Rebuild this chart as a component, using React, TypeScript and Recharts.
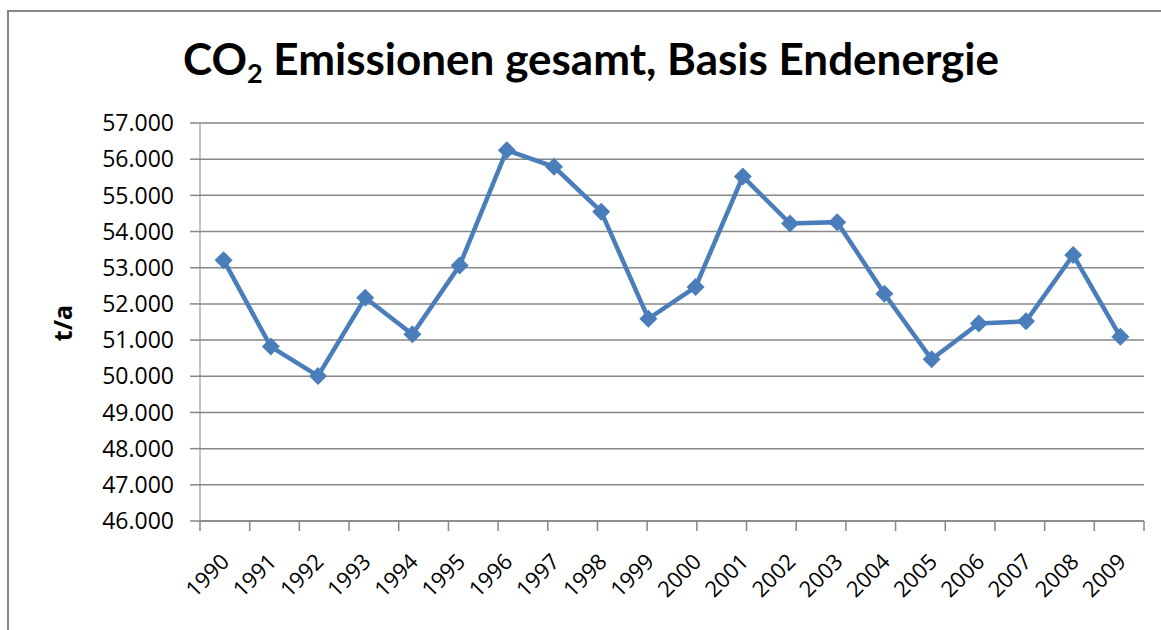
import { LineChart, Line, XAxis, YAxis, CartesianGrid } from "recharts";

const YEARS = [
  "1990", "1991", "1992", "1993", "1994", "1995", "1996", "1997", "1998", "1999",
  "2000", "2001", "2002", "2003", "2004", "2005", "2006", "2007", "2008", "2009",
];

// t/a
const EMISSIONS = [
  53210, 50820, 50010, 52170, 51160, 53060, 56250, 55790, 54550, 51590,
  52470, 55520, 54220, 54260, 52280, 50470, 51460, 51520, 53350, 51090,
];

const Y_TICKS = [
  46000, 47000, 48000, 49000, 50000, 51000, 52000, 53000, 54000, 55000, 56000, 57000,
];

// tick marks sit between the years
const BOUNDARY_TICKS = [0, 1, 2, 3, 4, 5, 6, 7, 8, 9, 10, 11, 12, 13, 14, 15, 16, 17, 18, 19, 20];

const data = YEARS.map((year, i) => ({ year, value: EMISSIONS[i] }));

const FONT = "'Open Sans', 'DejaVu Sans', sans-serif";
const GRID = "#878787";
const BLUE = "#4a7ebb";

const fmt = (v: number) => String(v).replace(/\B(?=(\d{3})+(?!\d))/g, ".");

const Diamond = ({ cx, cy }: { cx?: number; cy?: number }) => {
  if (cx == null || cy == null) return null;
  const r = 9;
  return (
    <polygon
      points={`${cx},${cy - r} ${cx + r},${cy} ${cx},${cy + r} ${cx - r},${cy}`}
      fill={BLUE}
    />
  );
};

const YearTick = ({ x, y, payload }: { x?: number; y?: number; payload?: { value: string } }) => {
  const px = (x ?? 0) + 7;
  const py = (y ?? 0) + 41;
  return (
    <text
      x={px}
      y={py}
      textAnchor="end"
      transform={`rotate(-45 ${px} ${py})`}
      fill="#000"
      fontSize={22}
      fontFamily={FONT}
    >
      {payload?.value}
    </text>
  );
};

export default function App() {
  return (
    <div
      style={{
        position: "absolute", left: 0, top: 0, width: 1161, height: 630,
        overflow: "hidden", background: "#fff",
      }}
    >
      {/* chart frame */}
      <div
        style={{
          position: "absolute", left: 7, top: 10, width: 1160, height: 640,
          borderTop: `2px solid ${GRID}`, borderLeft: `2px solid ${GRID}`,
        }}
      />
      <div
        style={{
          position: "absolute", left: 591, top: 30, transform: "translateX(-50%)",
          whiteSpace: "nowrap", fontFamily: "Lato, sans-serif", fontWeight: 700,
          fontSize: 44, color: "#000", lineHeight: "56px",
        }}
      >
        CO<sub style={{ fontSize: 27, verticalAlign: "-8px" }}>2</sub> Emissionen gesamt, Basis Endenergie
      </div>
      <div
        style={{
          position: "absolute", left: 62, top: 323, transform: "translate(-50%, -50%) rotate(-90deg)",
          whiteSpace: "nowrap", fontFamily: FONT, fontWeight: 700, fontSize: 25, color: "#000",
        }}
      >
        t/a
      </div>
      <LineChart
        width={1161}
        height={630}
        data={data}
        margin={{ top: 123, right: 17, bottom: 0, left: 0 }}
        style={{ position: "absolute", left: 0, top: 0 }}
      >
        <CartesianGrid xAxisId="cat" vertical={false} stroke={GRID} strokeWidth={1.5} />
        <XAxis
          xAxisId="bounds"
          type="number"
          domain={[0, 20]}
          ticks={BOUNDARY_TICKS}
          height={1}
          tickSize={10}
          tickFormatter={() => ""}
          axisLine={{ stroke: GRID, strokeWidth: 1.5 }}
          tickLine={{ stroke: GRID, strokeWidth: 1.5 }}
        />
        <XAxis
          xAxisId="cat"
          dataKey="year"
          type="category"
          height={108}
          padding={{ left: 23.6, right: 23.6 }}
          interval={0}
          axisLine={false}
          tickLine={false}
          tickSize={0}
          tickMargin={0}
          tick={<YearTick />}
        />
        <YAxis
          width={200}
          domain={[46000, 57000]}
          ticks={Y_TICKS}
          tickFormatter={fmt}
          tickSize={10}
          tickMargin={16}
          axisLine={{ stroke: GRID }}
          tickLine={{ stroke: GRID, strokeWidth: 1.5 }}
          tick={{ fill: "#000", fontSize: 23, fontFamily: FONT }}
        />
        <Line
          xAxisId="cat"
          dataKey="value"
          stroke={BLUE}
          strokeWidth={4.5}
          dot={<Diamond />}
          activeDot={false}
          isAnimationActive={false}
        />
      </LineChart>
    </div>
  );
}
